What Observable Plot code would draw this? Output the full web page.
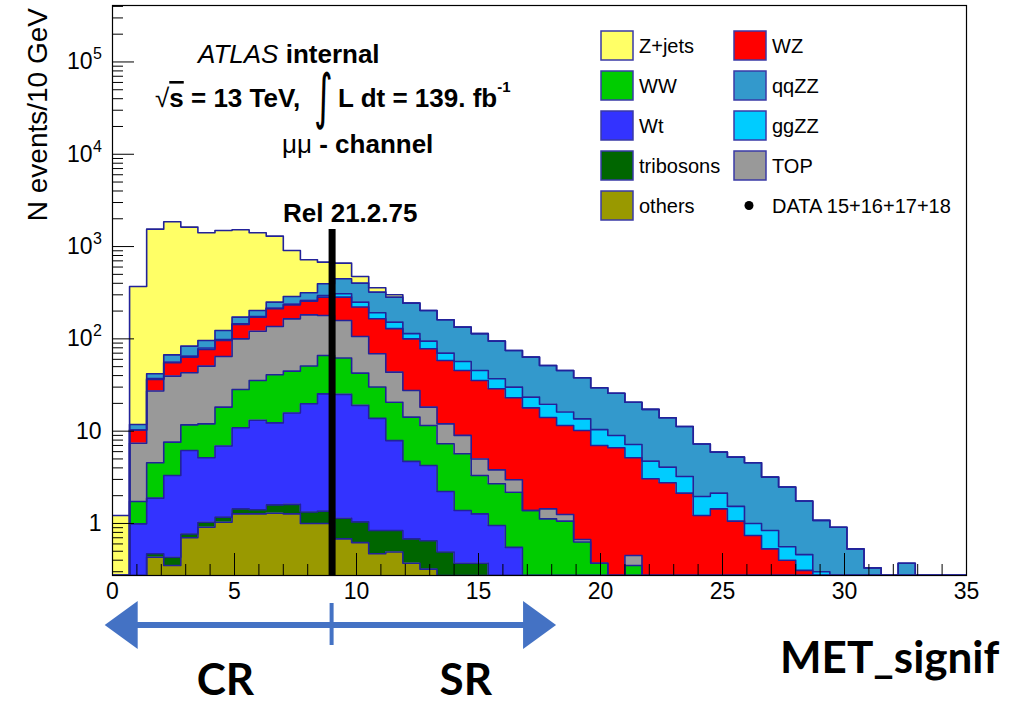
<!DOCTYPE html>
<html><head><meta charset="utf-8">
<script src="https://cdn.jsdelivr.net/npm/d3@7"></script>
<script src="https://cdn.jsdelivr.net/npm/@observablehq/plot@0.6"></script>
<style>
body{margin:0;background:#fff;}
#chart svg{font-family:"Liberation Sans",Arial,sans-serif;}
</style></head><body><div id="chart"></div>
<script>
// ---- data: MET_signif histogram, 50 bins of width 0.7 from 0 to 35 ----
const binWidth = 0.7;
const nBins = 50;
const xTicksMajor = [0, 5, 10, 15, 20, 25, 30, 35];
const yTicksPlain = [1, 10];
const yTicksPow = [100, 1000, 10000, 100000];

const others    = [0,0,0.43,0.35,0.70,0.91,1.03,1.27,1.27,1.29,1.27,1.00,1.00,0.68,0.62,0.47,0.49,0.37,0.32,0, 0,0,0,0,0,0,0,0,0,0, 0,0,0,0,0,0,0,0,0,0, 0,0,0,0,0,0,0,0,0,0];
const tribosons = [0,0,0.04,0.08,0.07,0.12,0.14,0.17,0.14,0.30,0.34,0.33,0.36,0.46,0.42,0.37,0.35,0.31,0.33,0.49, 0.37,0.37,0,0,0,0,0,0,0,0, 0,0,0,0,0,0,0,0,0,0, 0,0,0,0,0,0,0,0,0,0];
const Wt        = [0,0.99,1.41,2.88,5.41,4.12,5.73,9.46,11.7,10.7,14.1,18.5,24.0,23.9,18.0,12.9,7.06,4.02,3.60,1.73, 1.01,0.90,0.95,0.55,0,0,0,0,0,0, 0,0,0,0,0,0,0,0,0,0, 0,0,0,0,0,0,0,0,0,0];
const WW        = [0,0.74,2.66,4.29,5.52,6.85,11.3,17.4,22.3,28.5,29.0,30.9,40.6,37.0,23.5,16.3,12.7,9.5,7.25,5.08, 4.32,2.04,1.74,1.63,1.38,1.12,1.06,0.63,0.37,0, 0.35,0,0,0,0,0,0,0,0,0, 0,0,0,0,0,0,0,0,0,0];
const TOP       = [0,5.67,22.7,31.9,31.2,38.6,46.3,71.7,85.6,95.2,120,131,113,96,63.5,39,23,13.4,6.7,4.7, 3.3,1.69,1.12,0.79,0,0.32,0.19,0.04,0,0, 0.10,0,0,0,0,0,0,0,0,0, 0,0,0,0,0,0,0,0,0,0];
const WZ        = [0,2.9,9.1,15.5,20.5,26.0,31.5,43,51,76,69,74,104,125,115,96,85.4,72.4,59.8,46.3, 36.5,30.4,25.0,20.0,16.5,12.6,10.25,9.5,6.63,6.6, 4.7,3.05,2.76,2.13,1.22,1.44,1.06,0.74,0.53,0.40, 0.31,0,0,0,0,0,0,0,0,0];
const ggZZ      = [0,0,0.7,1.0,1.6,3.0,2.0,3,3,4,5,6,12,25,29,27,23,14,16.4,11.7, 11.4,10.1,8.1,7.0,5.5,5.5,4.6,3.4,3.4,2.38, 2.03,1.68,1.32,1.10,0.74,0.69,0.47,0.26,0.31,0.16, 0.15,0.30,0,0,0,0,0,0,0,0];
const qqZZ      = [0,1.5,4.8,11,18.4,16.4,25,26,28,34,49,54,100,140,152,129,131,130,108.6,91, 77.1,68.5,57.6,44.8,40.0,32.0,29.4,24.3,19.1,16.8, 13.4,12.5,9.9,8.0,5.3,3.8,3.7,3.54,2.34,1.92, 1.29,0.78,0.91,0.53,0.33,0,0.37,0,0,0];
const Zjets     = [1.22,358,1503,1787,1541,1313,1371,1348,1207,1047,619,403,283,213,72,37,18,0,0,0, 0,0,0,0,0,0,0,0,0,0, 0,0,0,0,0,0,0,0,0,0, 0,0,0,0,0,0,0,0,0,0];

const cutValue = 9;      // Rel 21.2.75 cut line
const cutTop = 1530;

// stack order bottom -> top
const stack = [
  {name: "others",    values: others,    color: "#999900"},
  {name: "tribosons", values: tribosons, color: "#006600"},
  {name: "Wt",        values: Wt,        color: "#3333ff"},
  {name: "WW",        values: WW,        color: "#00cc00"},
  {name: "TOP",       values: TOP,       color: "#999999"},
  {name: "WZ",        values: WZ,        color: "#ff0000"},
  {name: "ggZZ",      values: ggZZ,      color: "#00ccff"},
  {name: "qqZZ",      values: qqZZ,      color: "#3399cc"},
  {name: "Z+jets",    values: Zjets,     color: "#ffff66"}
];
const legendCol1 = ["Z+jets", "WW", "Wt", "tribosons", "others"];
const legendCol2 = ["WZ", "qqZZ", "ggZZ", "TOP"];
const dataLabel = "DATA 15+16+17+18";

const outline = "#22229a";
const yMin = 0.273, yMax = 4.09e5;

// ---- build stacked step areas ----
const edges = d3.range(nBins + 1).map(i => +(i * binWidth).toFixed(3));
let below = new Array(nBins).fill(0);
const areaData = [];
for (const c of stack) {
  const top = below.map((b, i) => b + c.values[i]);
  for (let i = 0; i <= nBins; i++) {
    const j = Math.min(i, nBins - 1);
    areaData.push({series: c.name, x: edges[i], y1: Math.max(below[j], yMin), y2: Math.max(top[j], yMin)});
  }
  below = top;
}

const yTicksMajor = [...yTicksPlain, ...yTicksPow];
const minorY = [];
for (let k = -1; k <= 5; k++) for (let m = 2; m <= 9; m++) { const v = m * Math.pow(10, k); if (v > yMin && v < yMax) minorY.push(v); }
const minorX = d3.range(0, 36, 1).filter(v => v % 5 !== 0);

const chart = Plot.plot({
  width: 1020, height: 705,
  marginLeft: 112, marginRight: 54, marginTop: 5, marginBottom: 130,
  x: {domain: [0, 35]},
  y: {type: "log", domain: [yMin, yMax]},
  color: {domain: stack.map(d => d.name), range: stack.map(d => d.color)},
  style: {fontFamily: "Liberation Sans, Arial, sans-serif", background: "white", color: "black"},
  marks: [
    Plot.area(areaData, {x1: "x", y1: "y1", y2: "y2", z: "series", fill: "series", curve: "step-after"}),
    Plot.line(areaData, {x: "x", y: "y2", z: "series", stroke: outline, strokeWidth: 1.6, curve: "step-after", clip: true}),
    Plot.ruleX([cutValue], {y1: yMin, y2: cutTop, stroke: "black", strokeWidth: 7}),
    Plot.axisX({ticks: xTicksMajor, tickSize: 0, tickPadding: 7, fontSize: 23, tickFormat: d => String(d), label: null}),
    Plot.axisX({ticks: xTicksMajor, tickSize: -22, tickFormat: () => "", label: null}),
    Plot.axisX({ticks: minorX, tickSize: -11, tickFormat: () => "", label: null}),
    Plot.axisY({ticks: yTicksPlain, tickSize: 0, tickPadding: 11, fontSize: 23, tickFormat: d => String(d), label: null}),
    Plot.axisY({ticks: yTicksPow, tickSize: 0, tickPadding: 20, fontSize: 23, tickFormat: () => "10", label: null}),
    Plot.axisY({ticks: yTicksMajor, tickSize: -22, tickFormat: () => "", label: null}),
    Plot.axisY({ticks: minorY, tickSize: -11, tickFormat: () => "", label: null}),
    Plot.frame({stroke: "black", strokeWidth: 1.2})
  ]
});
document.getElementById("chart").append(chart);

// ---- annotations ----
const xs = chart.scale("x"), ys = chart.scale("y");
const svg = d3.select(chart);
const g = svg.append("g").attr("font-family", "Liberation Sans, Arial, sans-serif")
  .attr("fill", "black").attr("text-anchor", "start");

// raised exponents on the y tick labels (10^2 ... 10^5)
yTicksPow.forEach(v => {
  g.append("text").attr("x", 93).attr("y", ys.apply(v) - 2).attr("font-size", 16)
    .text(String(Math.round(Math.log10(v))));
});

// y title
g.append("text").attr("transform", "translate(47,8) rotate(-90)").attr("text-anchor", "end")
  .attr("font-size", 28).text("N events/10 GeV");

// ATLAS internal
const t1 = g.append("text").attr("x", 198).attr("y", 63).attr("font-size", 26);
t1.append("tspan").attr("font-style", "italic").text("ATLAS");
t1.append("tspan").attr("font-weight", "bold").text(" internal");

const t2 = g.append("text").attr("x", 155).attr("y", 107).attr("font-size", 26).attr("font-weight", "bold");
t2.append("tspan").attr("font-weight", "normal").text("√");
t2.append("tspan").attr("text-decoration", "overline").text("s");
t2.append("tspan").text(" = 13 TeV,");
g.append("text").attr("font-size", 36).attr("font-family", "DejaVu Sans")
  .attr("transform", "translate(314,116.5) scale(1,1.667)").text("∫");
const t3 = g.append("text").attr("x", 338).attr("y", 107).attr("font-size", 26).attr("font-weight", "bold");
t3.append("tspan").text("L dt = 139. fb");
t3.append("tspan").attr("dy", -15).attr("font-size", 15).text("-1");

const t4 = g.append("text").attr("x", 282).attr("y", 153).attr("font-size", 26);
t4.append("tspan").text("μμ");
t4.append("tspan").attr("font-weight", "bold").text(" - channel");

g.append("text").attr("x", 283).attr("y", 222).attr("font-size", 26).attr("font-weight", "bold").text("Rel 21.2.75");

// legend
const colorOf = Object.fromEntries(stack.map(d => [d.name, d.color]));
function legendRow(name, bx, tx, row) {
  const cy = 45.5 + 40 * row;
  g.append("rect").attr("x", bx).attr("y", cy - 14.5).attr("width", 32).attr("height", 29)
    .attr("fill", colorOf[name]).attr("stroke", "#3a3aa6").attr("stroke-width", 1.5);
  g.append("text").attr("x", tx).attr("y", cy + 7).attr("font-size", 20).text(name);
}
legendCol1.forEach((n, i) => legendRow(n, 601, 639, i));
legendCol2.forEach((n, i) => legendRow(n, 734, 772, i));
g.append("circle").attr("cx", 749).attr("cy", 205.5).attr("r", 4.5).attr("fill", "black");
g.append("text").attr("x", 772).attr("y", 212.5).attr("font-size", 20).text(dataLabel);

// CR / SR arrow below the axis
const blue = "#4472c4";
const ay = 625, xl = xs.apply(-0.3), xr = xs.apply(18.2), xm = xs.apply(cutValue), head = 33;
g.append("line").attr("x1", xl + head - 2).attr("x2", xr - head + 2).attr("y1", ay).attr("y2", ay)
  .attr("stroke", blue).attr("stroke-width", 6);
g.append("path").attr("d", `M${xl},${ay}L${xl + head},${ay - 24}L${xl + head},${ay + 24}Z`).attr("fill", blue);
g.append("path").attr("d", `M${xr},${ay}L${xr - head},${ay - 24}L${xr - head},${ay + 24}Z`).attr("fill", blue);
g.append("line").attr("x1", xm).attr("x2", xm).attr("y1", ay - 22).attr("y2", ay + 20)
  .attr("stroke", blue).attr("stroke-width", 4);

const big = g.append("g").attr("font-family", "Lato, 'Open Sans', sans-serif").attr("font-weight", "bold").attr("font-size", 44);
big.append("text").attr("x", xs.apply(4.65)).attr("y", 695).attr("text-anchor", "middle").text("CR");
big.append("text").attr("x", xs.apply(14.5)).attr("y", 695).attr("text-anchor", "middle").text("SR");
big.append("text").attr("x", 780).attr("y", 673).text("MET_signif");
</script></body></html>
